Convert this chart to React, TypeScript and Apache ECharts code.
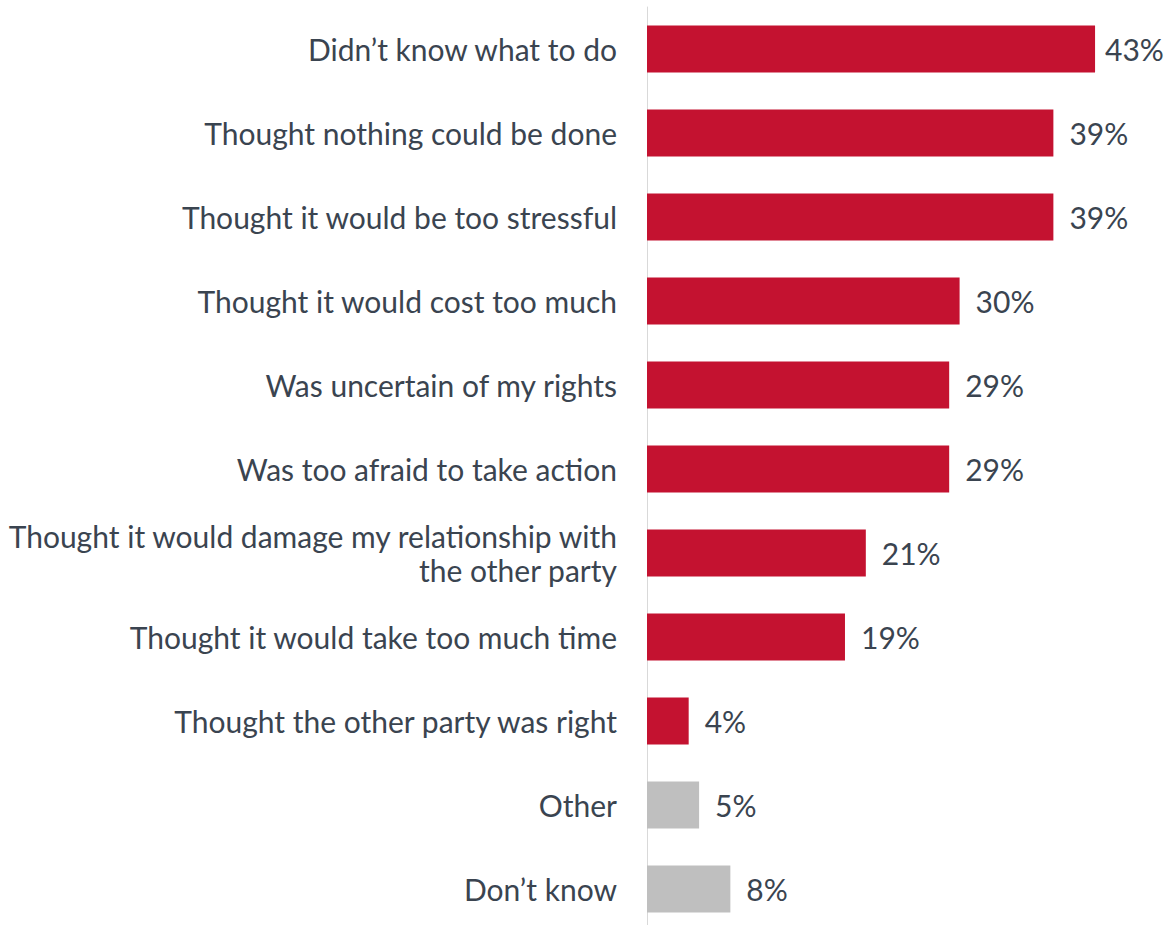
import React, { useEffect, useRef } from "react";
import * as echarts from "echarts";

const categories = [
  "Didn’t know what to do",
  "Thought nothing could be done",
  "Thought it would be too stressful",
  "Thought it would cost too much",
  "Was uncertain of my rights",
  "Was too afraid to take action",
  "Thought it would damage my relationship with\nthe other party",
  "Thought it would take too much time",
  "Thought the other party was right",
  "Other",
  "Don’t know",
];
const values = [43, 39, 39, 30, 29, 29, 21, 19, 4, 5, 8];
const isGrey = [false, false, false, false, false, false, false, false, false, true, true];

const RED = "#C41230";
const GREY = "#BFBFBF";
const TEXT = "#3A4450";
const FONT = "Lato, 'Open Sans', sans-serif";

export default function App() {
  const ref = useRef<HTMLDivElement>(null);
  useEffect(() => {
    if (!ref.current) return;
    const chart = echarts.init(ref.current, null, { renderer: "svg" });
    chart.setOption({
      animation: false,
      grid: { left: 647, top: 7, width: 521, height: 924, containLabel: false },
      xAxis: {
        type: "value",
        min: 0,
        max: 50,
        show: false,
      },
      yAxis: {
        type: "category",
        inverse: true,
        data: categories,
        axisLine: { show: true, lineStyle: { color: "#D9D9D9", width: 1 } },
        axisTick: { show: false },
        axisLabel: {
          margin: 30,
          color: TEXT,
          fontFamily: FONT,
          fontSize: 30,
          lineHeight: 34,
          align: "right",
        },
      },
      series: [
        {
          type: "bar",
          barWidth: 47,
          data: values.map((v, i) => ({
            value: v,
            itemStyle: { color: isGrey[i] ? GREY : RED },
            label: { distance: i === 0 ? 10 : 16 },
          })),
          label: {
            show: true,
            position: "right",
            distance: 16,
            formatter: "{c}%",
            color: TEXT,
            fontFamily: FONT,
            fontSize: 30,
          },
        },
      ],
    });
    return () => chart.dispose();
  }, []);
  return (
    <div
      ref={ref}
      style={{ position: "fixed", left: 0, top: 0, width: 1171, height: 940, background: "#fff" }}
    />
  );
}
